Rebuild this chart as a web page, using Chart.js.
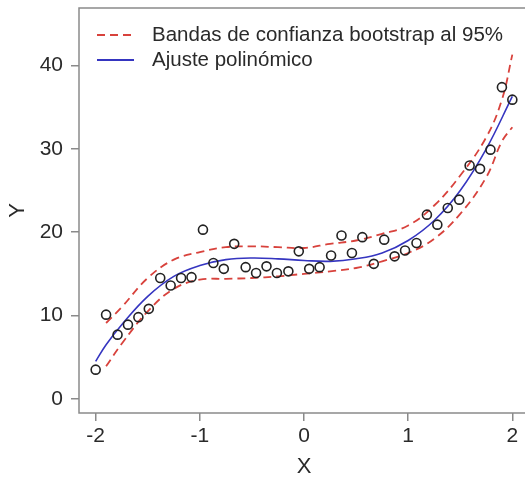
<!DOCTYPE html>
<html>
<head>
<meta charset="utf-8">
<script src="https://cdn.jsdelivr.net/npm/chart.js@4"></script>
<style>
  html, body { margin: 0; padding: 0; background: #fff; overflow: hidden; }
  #wrap { position: relative; width: 545px; height: 480px; }
</style>
</head>
<body>
<div id="wrap"><canvas id="grafico" width="545" height="480"></canvas></div>
<script>
// Datos
const puntosX = [-2.00, -1.90, -1.79, -1.69, -1.59, -1.49, -1.38, -1.28, -1.18, -1.08,
                 -0.97, -0.87, -0.77, -0.67, -0.56, -0.46, -0.36, -0.26, -0.15, -0.05,
                 0.05, 0.15, 0.26, 0.36, 0.46, 0.56, 0.67, 0.77, 0.87, 0.97,
                 1.08, 1.18, 1.28, 1.38, 1.49, 1.59, 1.69, 1.79, 1.90, 2.00];
const puntosY = [3.5, 10.1, 7.7, 8.9, 9.8, 10.8, 14.5, 13.6, 14.5, 14.6,
                 20.3, 16.3, 15.6, 18.6, 15.8, 15.1, 15.9, 15.1, 15.3, 17.7,
                 15.6, 15.8, 17.2, 19.6, 17.5, 19.4, 16.2, 19.1, 17.1, 17.8,
                 18.7, 22.1, 20.9, 22.9, 23.9, 28.0, 27.6, 29.9, 37.4, 35.9];

const ajusteX = [-2, -1.9, -1.75, -1.5, -1.25, -1, -0.75, -0.5, -0.25, 0, 0.25, 0.5, 0.75, 1, 1.25, 1.5, 1.75, 2];
const ajusteY = [4.5, 6.5, 8.9, 12.3, 14.7, 16.0, 16.7, 16.9, 16.8, 16.6, 16.5, 16.8, 17.5, 19.0, 21.4, 25.0, 30.0, 36.3];

const bandaX = [-1.9, -1.75, -1.5, -1.25, -1, -0.75, -0.5, -0.25, 0, 0.25, 0.5, 0.75, 1, 1.25, 1.5, 1.75, 1.9, 2.0];
const bandaSup = [9.1, 11.0, 14.5, 16.7, 17.6, 18.2, 18.3, 18.2, 18.1, 18.6, 19.0, 19.8, 20.8, 23.2, 26.8, 31.4, 35.9, 41.3];
const bandaInf = [3.9, 6.6, 10.5, 13.2, 14.3, 14.4, 14.5, 14.7, 15.0, 15.3, 15.7, 16.5, 17.5, 19.2, 22.2, 26.6, 30.9, 32.6];

const ticksX = [-2, -1, 0, 1, 2];
const ticksY = [0, 10, 20, 30, 40];

const rojo = '#d8423c';
const azul = '#3535c0';
const gris = '#8a8a8a';
const texto = '#2a2a2a';
const fuente = "'Liberation Sans', Arial, sans-serif";

const par = (xs, ys) => xs.map((x, i) => ({ x: x, y: ys[i] }));

// Caja del panel y leyenda dentro del área
const cajaYLeyenda = {
    id: 'cajaYLeyenda',
    afterDatasetsDraw(chart) {
        const c = chart.ctx;
        const a = chart.chartArea;
        c.save();
        c.strokeStyle = gris;
        c.lineWidth = 1.5;
        c.strokeRect(a.left, a.top, a.right - a.left, a.bottom - a.top);

        const items = [
            { texto: 'Bandas de confianza bootstrap al 95%', color: rojo, dash: [8, 5], y: 35 },
            { texto: 'Ajuste polinómico', color: azul, dash: [], y: 60 }
        ];
        c.font = '20.5px ' + fuente;
        c.textBaseline = 'middle';
        items.forEach(it => {
            c.beginPath();
            c.strokeStyle = it.color;
            c.lineWidth = 1.8;
            c.setLineDash(it.dash);
            c.moveTo(97, it.y);
            c.lineTo(134, it.y);
            c.stroke();
            c.setLineDash([]);
            c.fillStyle = texto;
            c.fillText(it.texto, 152, it.y);
        });
        c.restore();
    }
};

const sinRelleno = scale => {
    scale.paddingTop = 0;
    scale.paddingBottom = 0;
    scale.paddingLeft = 0;
    scale.paddingRight = 0;
};

const ctx = document.getElementById('grafico').getContext('2d');
const grafico = new Chart(ctx, {
    type: 'scatter',
    data: {
        datasets: [
            {
                label: 'Datos',
                data: par(puntosX, puntosY),
                pointStyle: 'circle',
                pointRadius: 4.5,
                pointBorderWidth: 1.6,
                pointBorderColor: '#222',
                pointBackgroundColor: 'rgba(0,0,0,0)',
                showLine: false
            },
            {
                label: 'Bandas de confianza bootstrap al 95%',
                data: par(bandaX, bandaSup),
                showLine: true,
                borderColor: rojo,
                borderWidth: 1.8,
                borderDash: [8, 5],
                pointRadius: 0,
                tension: 0.4
            },
            {
                label: 'Banda inferior',
                data: par(bandaX, bandaInf),
                showLine: true,
                borderColor: rojo,
                borderWidth: 1.8,
                borderDash: [8, 5],
                pointRadius: 0,
                tension: 0.4
            },
            {
                label: 'Ajuste polinómico',
                data: par(ajusteX, ajusteY),
                showLine: true,
                borderColor: azul,
                borderWidth: 1.6,
                pointRadius: 0,
                tension: 0.4
            }
        ]
    },
    options: {
        responsive: false,
        animation: false,
        layout: { padding: { top: 8, right: 16, left: 0, bottom: 0 } },
        plugins: {
            legend: { display: false },
            tooltip: { enabled: false }
        },
        scales: {
            x: {
                type: 'linear',
                min: -2.16,
                max: 2.16,
                afterBuildTicks(scale) {
                    scale.ticks = ticksX.map(v => ({ value: v }));
                },
                afterFit(scale) { scale.height = 67; sinRelleno(scale); },
                grid: {
                    drawOnChartArea: false,
                    drawTicks: true,
                    tickLength: 8,
                    color: gris,
                    lineWidth: 1.5
                },
                border: { display: false },
                ticks: {
                    color: texto,
                    padding: 3,
                    maxRotation: 0,
                    font: { family: fuente, size: 21 }
                },
                title: {
                    display: true,
                    text: 'X',
                    color: texto,
                    padding: { top: 0, bottom: 0 },
                    font: { family: fuente, size: 22 }
                }
            },
            y: {
                type: 'linear',
                min: -1.7,
                max: 46.9,
                afterBuildTicks(scale) {
                    scale.ticks = ticksY.map(v => ({ value: v }));
                },
                afterFit(scale) { scale.width = 79; sinRelleno(scale); },
                grid: {
                    drawOnChartArea: false,
                    drawTicks: true,
                    tickLength: 8,
                    color: gris,
                    lineWidth: 1.5
                },
                border: { display: false },
                ticks: {
                    color: texto,
                    padding: 8,
                    font: { family: fuente, size: 21 }
                },
                title: {
                    display: true,
                    text: 'Y',
                    color: texto,
                    padding: { top: 5, bottom: 0 },
                    font: { family: fuente, size: 22 }
                }
            }
        }
    },
    plugins: [cajaYLeyenda]
});
</script>
</body>
</html>
